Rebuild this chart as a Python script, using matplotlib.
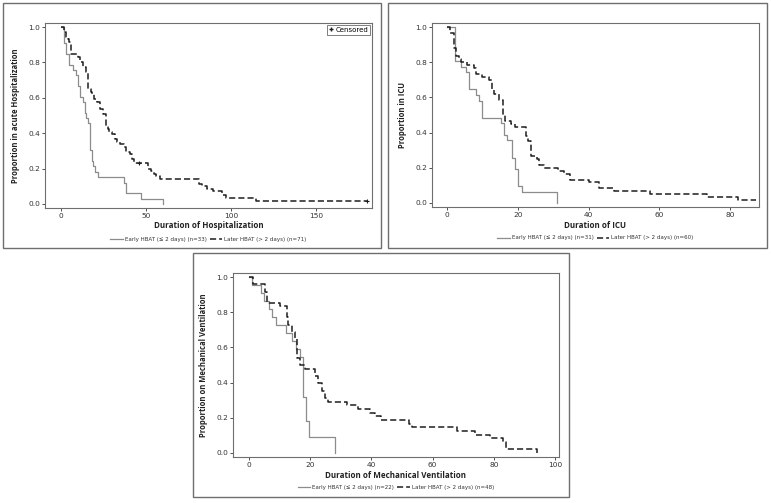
import matplotlib
matplotlib.use("Agg")
import matplotlib.pyplot as plt
from matplotlib.lines import Line2D
from matplotlib.patches import Rectangle

# Hospitalization
hosp_early_t = [0, 2, 3, 5, 7, 9, 10, 11, 13, 14, 15, 16, 17, 18, 19, 20, 22, 37, 38, 47, 60]
hosp_early_s = [1.0, 0.909, 0.848, 0.788, 0.758, 0.727, 0.667, 0.606, 0.576, 0.515, 0.485,
                0.455, 0.303, 0.242, 0.212, 0.182, 0.152, 0.121, 0.061, 0.030, 0.0]
hosp_later_t = [0, 2, 3, 4, 5, 6, 10, 11, 13, 15, 16, 17.5, 18, 19.5, 21, 23, 25, 26.5, 27.5,
                28.5, 30, 32, 33, 35, 37, 38, 40.5, 42, 43, 51, 53, 54.5, 56, 58.5, 81, 83, 86,
                89.5, 95, 97, 114.5, 180]
hosp_later_s = [1.0, 0.972, 0.944, 0.930, 0.915, 0.845, 0.831, 0.803, 0.775, 0.746, 0.648,
                0.634, 0.620, 0.592, 0.577, 0.535, 0.507, 0.437, 0.423, 0.408, 0.394, 0.366,
                0.352, 0.338, 0.324, 0.296, 0.282, 0.254, 0.229, 0.200, 0.186, 0.172, 0.157,
                0.143, 0.115, 0.100, 0.086, 0.072, 0.050, 0.036, 0.014, 0.014]
hosp_cens_t = [46, 180]
hosp_cens_s = [0.229, 0.014]

# ICU
icu_early_t = [0, 2.2, 4, 5.3, 6.2, 8.2, 9.1, 10, 15.3, 16.1, 17, 18.3, 19.2, 20.2, 21.2, 31]
icu_early_s = [1.0, 0.806, 0.774, 0.742, 0.645, 0.613, 0.581, 0.484, 0.452, 0.387, 0.355,
               0.258, 0.194, 0.097, 0.065, 0.0]
icu_later_t = [0, 1, 2, 2.6, 3.3, 4, 5.7, 7.6, 8.3, 10, 12, 12.7, 13.4, 14.8, 15.8, 16.4, 18,
               19.3, 21.4, 22.3, 23, 23.8, 25.4, 26, 27.5, 31.5, 33, 34.8, 40.2, 43, 47.2,
               57.3, 73.3, 82.3, 87.2]
icu_later_s = [1.0, 0.967, 0.883, 0.833, 0.817, 0.800, 0.783, 0.767, 0.733, 0.717, 0.700,
               0.650, 0.617, 0.583, 0.500, 0.467, 0.450, 0.433, 0.433, 0.383, 0.350, 0.267,
               0.250, 0.217, 0.200, 0.183, 0.167, 0.133, 0.117, 0.083, 0.067, 0.050, 0.033,
               0.017, 0.017]

# Mechanical ventilation
mv_early_t = [0, 1, 4, 5, 6.5, 7.5, 9, 12, 14, 15.5, 16.6, 17.7, 18.7, 19.6, 28]
mv_early_s = [1.0, 0.955, 0.909, 0.864, 0.818, 0.773, 0.727, 0.682, 0.636, 0.591, 0.545,
              0.318, 0.182, 0.091, 0.0]
mv_later_t = [0, 1.2, 5.2, 5.8, 10, 12.3, 12.9, 14, 15.1, 15.6, 16.7, 18.4, 20, 21.6, 22.7,
              23.8, 24.9, 26, 32, 35.8, 39.5, 41.2, 43, 52.4, 53.2, 67.9, 73.9, 78.8, 83.1,
              84, 94.2]
mv_later_s = [1.0, 0.958, 0.917, 0.854, 0.833, 0.771, 0.729, 0.688, 0.646, 0.542, 0.500,
              0.479, 0.479, 0.438, 0.396, 0.354, 0.313, 0.292, 0.271, 0.250, 0.229, 0.208,
              0.188, 0.167, 0.146, 0.125, 0.104, 0.083, 0.063, 0.021, 0.0]

yticks = [0.0, 0.2, 0.4, 0.6, 0.8, 1.0]

panels = [
    dict(rect=[0.0584, 0.5865, 0.4241, 0.3678], box=(3, 3, 381, 248),
         et=hosp_early_t, es=hosp_early_s, lt=hosp_later_t, ls=hosp_later_s,
         xlim=(-9.4, 183), xticks=[0, 50, 100, 150],
         xlabel="Duration of Hospitalization", ylabel="Proportion in acute Hospitalization",
         n=(33, 71), censored=True, xlab_y=225, leg_y=239),
    dict(rect=[0.5603, 0.5885, 0.4241, 0.3658], box=(388, 3, 767, 248),
         et=icu_early_t, es=icu_early_s, lt=icu_later_t, ls=icu_later_s,
         xlim=(-4.2, 88.1), xticks=[0, 20, 40, 60, 80],
         xlabel="Duration of ICU", ylabel="Proportion in ICU",
         n=(31, 60), censored=False, xlab_y=225, leg_y=238),
    dict(rect=[0.3022, 0.0915, 0.4228, 0.3658], box=(193, 253, 569, 497),
         et=mv_early_t, es=mv_early_s, lt=mv_later_t, ls=mv_later_s,
         xlim=(-5.2, 101.3), xticks=[0, 20, 40, 60, 80, 100],
         xlabel="Duration of Mechanical Ventilation", ylabel="Proportion on Mechanical Ventilation",
         n=(22, 48), censored=False, xlab_y=475, leg_y=487),
]

W, H = 771, 503
fig = plt.figure(figsize=(W / 100, H / 100), dpi=100)
fig.patch.set_facecolor("white")

for p in panels:
    x0, y0, x1, y1 = p["box"]
    fig.patches.append(Rectangle((x0 / W, 1 - y1 / H), (x1 - x0) / W, (y1 - y0) / H,
                                 transform=fig.transFigure, fill=False,
                                 edgecolor="#6e6e6e", linewidth=1.0))

    ax = fig.add_axes(p["rect"])
    ax.step(p["et"], p["es"], where="post", color="#8c8c8c", linewidth=0.9,
            label="Early HBAT (\u2264 2 days) (n=%d)" % p["n"][0])
    ax.step(p["lt"], p["ls"], where="post", color="#1e1e1e", linewidth=1.1,
            dashes=(4, 2), label="Later HBAT (> 2 days) (n=%d)" % p["n"][1])
    if p["censored"]:
        ax.plot(hosp_cens_t, hosp_cens_s, linestyle="none", marker="+", color="#1e1e1e",
                markersize=3.5, markeredgewidth=0.8)

    ax.set_xlim(*p["xlim"])
    ax.set_ylim(-0.023, 1.023)
    ax.set_xticks(p["xticks"])
    ax.set_yticks(yticks)
    ax.set_yticklabels(["%.1f" % v for v in yticks])
    ax.tick_params(labelsize=5.3, colors="#333333", length=2.5, width=0.6, pad=1)
    for s in ax.spines.values():
        s.set_color("#6e6e6e")
        s.set_linewidth(0.8)

    # x label and legend placed at the pixel rows seen in the reference
    cx = (p["rect"][0] + p["rect"][2] / 2)
    fig.text(cx, 1 - p["xlab_y"] / H, p["xlabel"], ha="center", va="center",
             fontsize=5.8, fontweight="bold", family="Open Sans", color="#222222")
    ax.set_ylabel(p["ylabel"], fontsize=5.5, fontweight="bold", family="Open Sans",
                  color="#222222", labelpad=6)

    leg = fig.legend(*ax.get_legend_handles_labels(), loc="center",
                     bbox_to_anchor=(cx, 1 - p["leg_y"] / H), ncol=2, frameon=False,
                     fontsize=4.0, handlelength=2.2, columnspacing=0.6, handletextpad=0.4,
                     borderaxespad=0, borderpad=0)
    for t in leg.get_texts():
        t.set_color("#333333")

    if p["censored"]:
        h = Line2D([], [], linestyle="none", marker="+", color="#1e1e1e", markersize=3)
        cl = ax.legend([h], ["Censored"], loc="upper right", fontsize=5, frameon=True,
                       fancybox=False, handlelength=0.6, handletextpad=0.3,
                       borderpad=0.25, borderaxespad=0.3)
        cl.get_frame().set_edgecolor("#444444")
        cl.get_frame().set_linewidth(0.6)

fig.savefig("out.png", dpi=100, facecolor="white")
